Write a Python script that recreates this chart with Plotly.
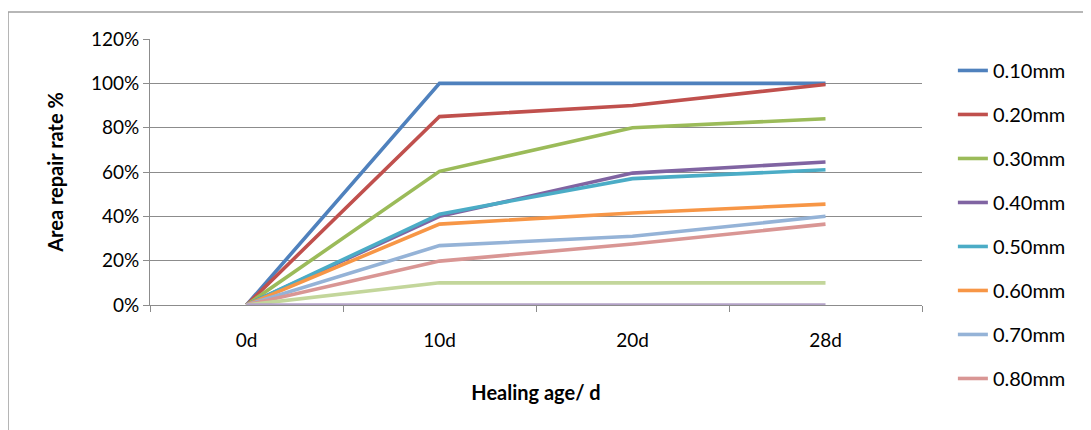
import plotly.graph_objects as go

categories = ["0d", "10d", "20d", "28d"]
series_names = ["0.10mm", "0.20mm", "0.30mm", "0.40mm", "0.50mm",
                "0.60mm", "0.70mm", "0.80mm", "0.90mm", "1.00mm"]
s010 = [0, 100, 100, 100]
s020 = [0, 85, 90, 99.5]
s030 = [0, 60.3, 80, 84]
s040 = [0, 40, 59.5, 64.5]
s050 = [0, 41, 57, 61]
s060 = [0, 36.5, 41.5, 45.5]
s070 = [0, 26.8, 31, 40]
s080 = [0, 19.8, 27.5, 36.5]
s090 = [0, 10, 10, 10]
s100 = [0, 0, 0, 0]
series_values = [s010, s020, s030, s040, s050, s060, s070, s080, s090, s100]
colors = ["#4F81BD", "#C0504D", "#9BBB59", "#8064A2", "#4BACC6",
          "#F79646", "#95B3D7", "#D99694", "#C3D69B", "#B3A2C7"]
legend_visible = [True] * 8 + [False, False]

FONT = "Lato"
fig = go.Figure()
for name, vals, col, show in zip(series_names, series_values, colors, legend_visible):
    fig.add_trace(go.Scatter(
        x=categories, y=[v / 100 for v in vals], name=name, mode="lines",
        line=dict(color=col, width=3.6), showlegend=show, legendgroup=name,
    ))

grid = "#8C8C8C"
fig.update_layout(
    width=1091, height=430,
    margin=dict(l=142, r=177, t=31, b=133),
    paper_bgcolor="white", plot_bgcolor="white",
    font=dict(family=FONT, size=19, color="#000000"),
    showlegend=True,
    legend=dict(x=1.04, xanchor="left", y=0.955, yanchor="top",
                font=dict(family=FONT, size=20, color="#000000"),
                traceorder="grouped", tracegroupgap=15, maxheight=1000,
                bgcolor="rgba(0,0,0,0)"),
    xaxis=dict(
        type="category", range=[-0.5, 3.5],
        showgrid=False, showline=True, linecolor=grid, linewidth=1,
        ticks="outside", ticklen=6, tickcolor=grid, tickson="boundaries",
        ticklabelstandoff=18,
        tickfont=dict(family=FONT, size=19),
        title=dict(text="<b>Healing age/ d</b>", standoff=36,
                   font=dict(family=FONT, size=20)),
    ),
    yaxis=dict(
        range=[0, 1.2], dtick=0.2, tickformat=".0%",
        showgrid=True, gridcolor=grid, gridwidth=1,
        showline=True, linecolor=grid, linewidth=1,
        ticks="outside", ticklen=6, tickcolor=grid,
        zeroline=False,
        tickfont=dict(family=FONT, size=19),
        title=dict(text="<b>Area repair rate %</b>", standoff=21,
                   font=dict(family=FONT, size=20)),
    ),
    shapes=[dict(type="rect", xref="paper", yref="paper",
                 x0=-0.1839, x1=1.6, y0=-1.0, y1=1.1015,
                 line=dict(color="#A0A0A0", width=1.5), layer="below")],
)
fig.write_html("out.html")
